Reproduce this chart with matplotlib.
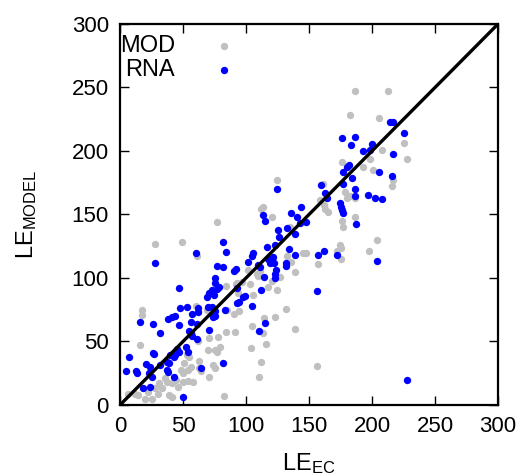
import matplotlib
matplotlib.use('Agg')
import matplotlib.pyplot as plt

plt.rcParams['font.family'] = ['Liberation Sans', 'DejaVu Sans']
plt.rcParams['mathtext.fontset'] = 'custom'
plt.rcParams['mathtext.rm'] = 'Liberation Sans'
plt.rcParams['mathtext.it'] = 'Liberation Sans:italic'

# MOD series (x = LE_EC, y = LE_MODEL)
mod_x = [17.5, 17.5, 15.6, 60.5, 53, 55, 50.5, 62.5, 56, 54, 48.7, 50, 35.5, 37, 41, 44.7,
         50, 54, 58, 31, 33, 27.5, 30, 22, 25, 19.6, 14, 6, 39, 41, 46, 63, 64.5, 71, 70,
         75, 62, 71, 11.7,
         28, 49.5, 61.4, 77,
         68.8, 92, 94, 84.7, 84, 91, 78, 79, 76.7, 82.8,
         113.7, 111.7, 121, 135, 145.5, 148, 132.3, 136, 111, 108.5, 109.8, 101.8, 138.9,
         127, 120.4, 124.3, 117.7, 103, 92.6, 96.6, 105.3, 84,
         90.5, 94.7, 104.5, 114.5, 123, 131.7, 113.7, 138.9, 115.6, 103.7, 111.7, 74, 75.4,
         110.3,
         162.7, 165.3, 186.5, 176.4, 177.2, 157.4, 174.6, 175.4, 172, 175.4, 156.6,
         186.5, 213, 182.5, 205.8, 225, 227.5, 207.7, 176, 198.4, 193, 201, 217, 215.6,
         161.4, 178.6, 182.5, 180, 158.7, 161.9,
         186.5, 203.7, 197.6, 124.8]
mod_y = [75, 71, 47, 78, 39, 37.5, 33, 35, 30, 27.5, 27.5, 25, 21, 18, 17.5, 19.7,
         18, 19, 18, 17, 13, 13, 9, 10, 5, 5, 8, 9, 8, 6.5, 14, 29, 27, 22, 43,
         43, 50, 52.5, 9,
         126.5, 128.6, 117, 143.8,
         74.8, 95, 88, 74.8, 57.7, 57.7, 53.8, 46, 42, 7,
         155.6, 154, 147.8, 140, 119.4, 119.4, 117.3, 112.8, 105.7, 103, 101.6, 106, 105,
         101, 98, 90.5, 92.6, 95.3, 95.8, 97, 86.6, 93.7,
         71.7, 74.2, 62.2, 68.2, 69, 75.3, 57, 59.6, 48, 44.6, 34, 31.5, 28.9,
         21.8,
         154, 152.2, 148.3, 145, 140, 111, 126, 123.4, 121.5, 114.7, 30.7,
         247.5, 247.5, 228, 225.7, 206, 194, 201, 191.6, 193.4, 187, 185, 177, 172.4,
         174, 168, 164.6, 162.7, 161.4, 157.5,
         163, 130, 121.5, 177]

# RNA series
rna_x = [16, 26, 32, 38, 41, 44, 47, 48, 53, 57, 56, 62, 62, 70, 75, 61, 71, 56, 61, 26,
         27, 7, 5, 12.5, 13.5, 21, 24, 18, 24, 23, 25, 31.5, 37, 39, 40, 43, 44, 37, 38,
         45.5, 46.5, 52.6, 54, 43, 50, 54.5, 57,
         60, 28, 77, 75, 46.6, 73, 71, 74.6, 69,
         84, 82, 90.5, 92, 75.4, 78.6, 76.7, 93, 98, 94.7, 92.6, 72.7, 74, 75.4, 83, 82, 64,
         144, 113.7, 136, 140.7, 115, 143, 125.6, 126.4, 132.3, 138.9, 81.5, 116.4, 123,
         105.8, 104.5, 101.8, 117.7, 120.4, 122.2, 119, 121.7, 109.8, 111, 138.9, 131.7,
         131.7, 123.8, 123.3, 123, 114.5, 111.7, 99,
         104.5, 115, 110,
         174.6, 175.4, 176.4, 177.2, 187, 157.4, 162, 172, 156.6, 148, 134.4,
         214.3, 217, 225, 176, 186.5, 183, 199.7, 198.4, 193, 216.4, 182, 180, 176.7, 184,
         205.8, 215.6, 159.3, 176.7, 186.5, 162.7, 164.5, 186.5, 197, 202.4, 207.7,
         203.7, 228, 124.8]
rna_y = [65, 64, 57, 68, 69, 70, 63, 76, 77, 72, 65, 76, 73, 77, 70, 64, 59, 57, 52, 41,
         40, 38, 27, 27, 25, 32, 30, 13, 14, 25, 22, 31.5, 34, 33, 39, 37.5, 39, 27.5, 26,
         44, 42, 45.4, 42, 22, 6, 58, 54,
         119.4, 112, 109.4, 99.7, 92.4, 90.5, 88, 86.6, 84.8,
         120.7, 109, 105.7, 107, 95.8, 93, 91, 92, 85, 81.3, 80, 77.4, 69.5, 74, 74.8, 32.8, 29,
         155.6, 149.6, 151, 148.3, 145, 143, 137.8, 132.5, 139, 135, 128.6, 124.6, 126,
         119.4, 117.3, 112.8, 114.7, 113.6, 112, 111.6, 116.8, 110.2, 109, 118, 112,
         109.4, 106, 103, 99.7, 100.5, 90.5, 85.8,
         78, 64.8, 58.5,
         158.8, 156, 153.5, 151.4, 142.5, 118, 121.5, 118, 90, 143.8, 122.8,
         223, 223, 214.4, 210, 210.8, 204.7, 205.5, 200.8, 200, 197.6, 189, 187, 183.7, 179,
         183.7, 180.3, 173, 174, 170.3, 167, 162.7, 164.6, 165, 162.7, 162,
         113.4, 20, 169.8]

ticks = [0, 50, 100, 150, 200, 250, 300]

fig = plt.figure(figsize=(5.25, 4.75), dpi=100)
ax = fig.add_axes([0.2286, 0.1474, 0.72, 0.8021])

ax.scatter(mod_x, mod_y, s=28, color='#c0c0c0', linewidths=0, zorder=2)
ax.scatter(rna_x, rna_y, s=28, color='#0000ff', linewidths=0, zorder=3)
ax.plot([0, 300], [0, 300], color='black', linewidth=2.4, zorder=4)

ax.set_xlim(0, 300)
ax.set_ylim(0, 300)
ax.set_xticks(ticks)
ax.set_yticks(ticks)
ax.tick_params(direction='in', length=6.5, width=1, top=True, right=True,
               labelsize=16, pad=8)
for sp in ax.spines.values():
    sp.set_linewidth(1.6)

ax.set_xlabel(r'$\mathrm{LE}_{\mathrm{EC}}$', fontsize=17)
ax.set_ylabel(r'$\mathrm{LE}_{\mathrm{MODEL}}$', fontsize=17)
ax.xaxis.set_label_coords(0.5, -0.12)
ax.yaxis.set_label_coords(-0.215, 0.5)

# key in the top left corner, text right-aligned before the sample
for yk, name, col in [(0.942, 'MOD', '#c0c0c0'), (0.879, 'RNA', '#0000ff')]:
    ax.text(0.1455, yk, name, transform=ax.transAxes, ha='right', va='center', fontsize=17)
    ax.scatter([0.275], [yk], s=28, color=col, linewidths=0, transform=ax.transAxes,
               clip_on=False, zorder=5)

fig.savefig('out.png', dpi=100, facecolor='white')
